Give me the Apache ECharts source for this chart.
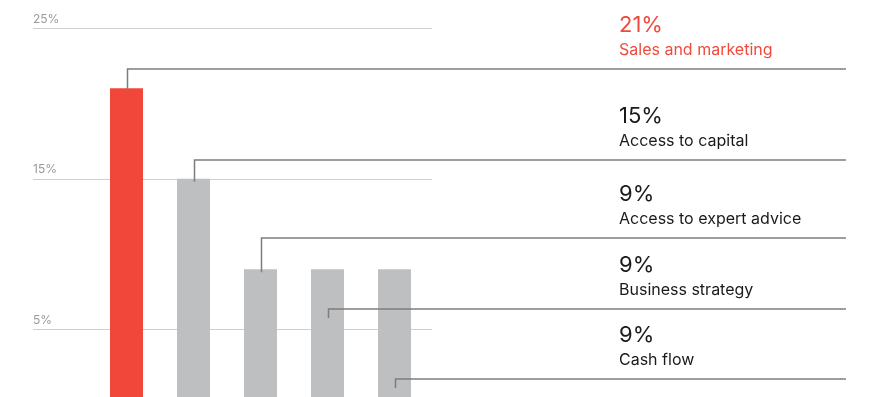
<!DOCTYPE html>
<html>
<head>
<meta charset="utf-8">
<script src="https://cdn.jsdelivr.net/npm/echarts@6/dist/echarts.min.js"></script>
<style>html,body{margin:0;padding:0;background:#fff}#c{width:874px;height:397px}</style>
</head>
<body>
<div id="c"></div>
<script>
var categories = ['Sales and marketing', 'Access to capital', 'Access to expert advice', 'Business strategy', 'Cash flow'];
var values = [21, 15, 9, 9, 9];
var valueLabels = ['21%', '15%', '9%', '9%', '9%'];
var tickValues = [5, 15, 25];

// layout (pixel y of each callout rule)
var calloutY = [69, 160, 238, 309, 379];
var barColors = ['#F0473A', '#BEBFC1', '#BEBFC1', '#BEBFC1', '#BEBFC1'];
var textColors = ['#EF4B3C', '#1a1a1a', '#1a1a1a', '#1a1a1a', '#1a1a1a'];
var FONT = 'Inter, "Noto Sans", sans-serif';

var chart = echarts.init(document.getElementById('c'), null, {renderer: 'canvas'});

var option = {
  animation: false,
  backgroundColor: '#fff',
  grid: [
    {left: 93, width: 335, top: 28, bottom: -8, outerBoundsMode: 'none', containLabel: false},
    {left: 33, width: 399, top: 28, bottom: -8, outerBoundsMode: 'none', containLabel: false}
  ],
  xAxis: [
    {type: 'category', data: categories, gridIndex: 0, show: false},
    {type: 'value', gridIndex: 1, min: 0, max: 1, show: false}
  ],
  yAxis: [
    {type: 'value', gridIndex: 0, min: 0, max: 25, show: false},
    {
      type: 'value', gridIndex: 1, min: 0, max: 25, interval: 5,
      axisLine: {show: false}, axisTick: {show: false},
      splitLine: {show: true, lineStyle: {color: ['rgba(0,0,0,0)', '#cfcfcf'], width: 1}},
      axisLabel: {
        inside: true, margin: 0, align: 'left', verticalAlign: 'bottom',
        padding: [0, 0, 3, 0],
        color: '#9a9a9a', fontSize: 12, fontFamily: FONT,
        formatter: function (v) { return tickValues.indexOf(v) >= 0 ? v + '%' : ''; }
      }
    }
  ],
  series: [
    {
      type: 'bar', xAxisIndex: 0, yAxisIndex: 0, barWidth: 33,
      data: values.map(function (v, i) { return {value: v, itemStyle: {color: barColors[i]}}; }),
      z: 2
    },
    {
      type: 'custom', xAxisIndex: 0, yAxisIndex: 0, z: 3,
      data: values.map(function (v, i) { return [i, v]; }),
      renderItem: function (params, api) {
        var i = params.dataIndex;
        var p = api.coord([api.value(0), api.value(1)]);
        var x = Math.round(p[0]) + 0.5;
        var top = p[1];
        var L = calloutY[i];
        var endY = top > L ? top + 3 : L + 9;
        return {
          type: 'group',
          children: [
            {type: 'polyline', shape: {points: [[x, endY], [x, L], [846, L]]},
             style: {stroke: '#7d7d7d', lineWidth: 1.5, fill: null}},
            {type: 'text', style: {x: 619, y: L - 33, text: valueLabels[i], fill: textColors[i],
              font: '400 22px ' + FONT, textVerticalAlign: 'bottom', verticalAlign: 'bottom'}},
            {type: 'text', style: {x: 619, y: L - 11, text: categories[i], fill: textColors[i],
              font: '400 16px ' + FONT, textVerticalAlign: 'bottom', verticalAlign: 'bottom'}}
          ]
        };
      }
    }
  ]
};
chart.setOption(option);
</script>
</body>
</html>
